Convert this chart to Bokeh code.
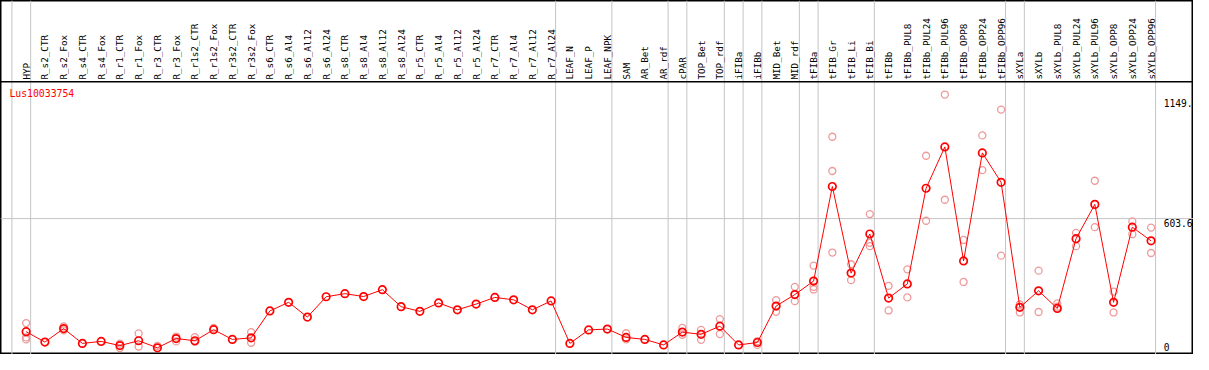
import numpy as np
from bokeh.plotting import figure
from bokeh.models import Span, Label, ColumnDataSource, Range1d
from bokeh.embed import file_html
from bokeh.resources import INLINE
from bokeh.core.properties import value

gene = "Lus10033754"

categories = [
    "HYP", "R_s2_CTR", "R_s2_Fox", "R_s4_CTR", "R_s4_Fox", "R_r1_CTR", "R_r1_Fox",
    "R_r3_CTR", "R_r3_Fox", "R_r1s2_CTR", "R_r1s2_Fox", "R_r3s2_CTR", "R_r3s2_Fox",
    "R_s6_CTR", "R_s6_Al4", "R_s6_Al12", "R_s6_Al24", "R_s8_CTR", "R_s8_Al4",
    "R_s8_Al12", "R_s8_Al24", "R_r5_CTR", "R_r5_Al4", "R_r5_Al12", "R_r5_Al24",
    "R_r7_CTR", "R_r7_Al4", "R_r7_Al12", "R_r7_Al24", "LEAF_N", "LEAF_P", "LEAF_NPK",
    "SAM", "AR_Bet", "AR_rdf", "cPAR", "TOP_Bet", "TOP_rdf", "iFIBa", "iFIBb",
    "MID_Bet", "MID_rdf", "tFIBa", "tFIB_Gr", "tFIB_Li", "tFIB_Bi", "tFIBb",
    "tFIBb_PUL8", "tFIBb_PUL24", "tFIBb_PUL96", "tFIBb_OPP8", "tFIBb_OPP24",
    "tFIBb_OPP96", "sXYLa", "sXYLb", "sXYLb_PUL8", "sXYLb_PUL24", "sXYLb_PUL96",
    "sXYLb_OPP8", "sXYLb_OPP24", "sXYLb_OPP96",
]

means = [
    92, 45, 106, 39, 48, 29, 51, 19, 61, 51, 101, 57, 64,
    186, 225, 158, 250, 264, 251, 282, 205, 184, 222, 191, 217, 247, 236, 191, 231,
    39, 100, 104, 66, 57, 32, 90, 80, 117, 32, 43, 208, 260, 321,
    749, 357, 534, 244, 308, 741, 928, 412, 901, 768,
    202, 277, 197, 513, 668, 225, 565, 503,
]

replicates = {
    "HYP": [131, 66, 57], "R_s2_Fox": [116, 98], "R_r1_CTR": [38, 18],
    "R_r1_Fox": [84, 25], "R_r3_CTR": [28], "R_r3_Fox": [70, 48],
    "R_r1s2_CTR": [67, 46], "R_r1s2_Fox": [109], "R_r3s2_Fox": [90, 42],
    "SAM": [85, 57], "cPAR": [109, 78], "TOP_Bet": [100, 55], "TOP_rdf": [149, 81],
    "iFIBb": [49, 32], "MID_Bet": [235, 182], "MID_rdf": [295, 230],
    "tFIBa": [391, 295, 283], "tFIB_Gr": [974, 819, 450], "tFIB_Li": [397, 325],
    "tFIB_Bi": [624, 494, 479], "tFIBb": [299, 188], "tFIBb_PUL8": [374, 247],
    "tFIBb_PUL24": [888, 594], "tFIBb_PUL96": [1165, 689], "tFIBb_OPP8": [507, 317],
    "tFIBb_OPP24": [980, 823], "tFIBb_OPP96": [1097, 436], "sXYLa": [215, 179],
    "sXYLb": [368, 181], "sXYLb_PUL8": [220, 205], "sXYLb_PUL24": [539, 479],
    "sXYLb_PUL96": [775, 565], "sXYLb_OPP8": [273, 179], "sXYLb_OPP24": [591, 533],
    "sXYLb_OPP96": [563, 448],
}

# groups end after these samples (a boundary is also drawn before the first one)
group_ends = ["HYP", "R_r7_Al24", "LEAF_NPK", "AR_rdf", "cPAR", "TOP_rdf", "iFIBa",
              "iFIBb", "MID_rdf", "tFIBa", "tFIB_Bi", "tFIBb_OPP96", "sXYLa",
              "sXYLb_OPP96"]

tick_values = [1149, 603.6, 0]
tick_labels = ["1149.", "603.6", "0"]

# ---------------- layout / styling ----------------
W, H = 1193, 354
REF_W, REF_H = 1209.0, 370.0
SX, SY = W / REF_W, H / REF_H
STEP = 19.0          # reference px per category
X0 = 26.0            # reference px of first category
Y0 = 367.4           # reference px of value 0
K = 0.231            # reference px per unit

x_start = (0 - X0) / STEP
x_end = (REF_W - X0) / STEP
y_start = (Y0 - REF_H) / K
y_end = Y0 / K

FONT_NAME = "DejaVu Sans Mono"
FONT = value(FONT_NAME)
RED = "#FF0000"
PINK = "#EE9A9A"
GRID = "#C4C4C4"

p = figure(width=W, height=H, output_backend="svg", toolbar_location=None,
           x_range=Range1d(x_start, x_end), y_range=Range1d(y_start, y_end),
           x_axis_location=None, y_axis_location=None, min_border=0,
           background_fill_color="white", border_fill_color="white")
p.grid.visible = False
p.outline_line_color = "black"
p.outline_line_width = 2

idx = list(range(len(categories)))

# vertical group separators
bounds = [-1] + [categories.index(c) for c in group_ends]
for b in bounds:
    p.add_layout(Span(location=b + 0.24, dimension="height", line_color=GRID,
                      line_width=1, level="underlay"))
# horizontal reference line
p.add_layout(Span(location=tick_values[1], dimension="width", line_color=GRID,
                  line_width=1, level="underlay"))
# header separator
header_val = (Y0 - 85.0) / K
p.add_layout(Span(location=header_val, dimension="width", line_color="black",
                  line_width=1.5))

# category labels (rotated)
label_val = (Y0 - 82.7) / K
p.text(x=idx, y=[label_val] * len(idx), text=categories, angle=np.pi / 2,
       text_align="left", text_baseline="middle", text_font=FONT,
       text_font_size="9.3px", text_color="black")

# replicates
rx, ry = [], []
for c, vals in replicates.items():
    i = categories.index(c)
    for v in vals:
        rx.append(i)
        ry.append(v)
p.scatter(rx, ry, marker="circle", size=7, fill_color=None, line_color=PINK,
          line_width=1.3)

# mean line + markers
p.line(idx, means, line_color=RED, line_width=1)
p.scatter(idx, means, marker="circle", size=7.5, fill_color=None, line_color=RED,
          line_width=1.7)

# value labels at the right
tsrc = ColumnDataSource(dict(x=[len(categories) - 1 + 0.67] * 3, y=tick_values,
                             text=tick_labels, yo=[5, 4, -5]))
p.text(x="x", y="y", text="text", y_offset="yo", source=tsrc, text_align="left",
       text_baseline="middle", text_font=FONT, text_font_size="9.6px",
       text_color="black")

# gene label
p.add_layout(Label(x=9 * SX, y=H - 97.7 * SY, x_units="screen", y_units="screen",
                   text=gene, text_color=RED, text_font=FONT_NAME,
                   text_font_size="9.8px", text_baseline="middle"))

open("out.html", "w").write(file_html(p, INLINE))
